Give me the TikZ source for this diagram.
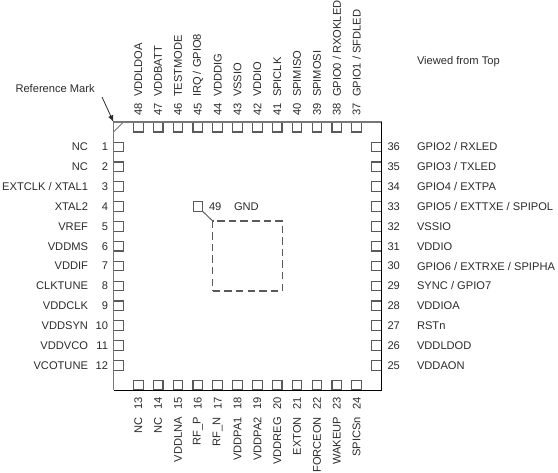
\documentclass[tikz,border=0pt]{standalone}
\usepackage{fontspec}
\setmainfont{Liberation Sans}
\usetikzlibrary{arrows.meta}
\definecolor{ink}{HTML}{2B2B2B}
\definecolor{padc}{HTML}{5A5A5A}
\definecolor{edgeg}{HTML}{777777}
\tikzset{
  x=0.75pt,y=-0.75pt,
  padbox/.style={draw=padc,line width=0.85pt,fill=white,minimum size=7.2pt,inner sep=0pt,outer sep=0pt},
  lbl/.style={font=\fontsize{8.35}{9}\selectfont,text=ink,inner sep=0pt,outer sep=0pt},
  lname/.style={lbl,anchor=east},
  rname/.style={lbl,anchor=west},
  tname/.style={lbl,rotate=90,anchor=west},
  bname/.style={lbl,rotate=90,anchor=east},
}
\begin{document}
\begin{tikzpicture}
\useasboundingbox (0,0) rectangle (558,473);
\coordinate (tl) at (113.5,122);
\coordinate (tr) at (381.5,122);
\coordinate (br) at (381.5,390.3);
\coordinate (bl) at (113.5,390.3);
\coordinate (m1) at (113.5,132);
\coordinate (m2) at (123.5,122);
% left
\foreach \n/\t [count=\i from 0] in {1/NC,2/NC,3/{EXTCLK / XTAL1},4/XTAL2,5/VREF,6/VDDMS,7/VDDIF,8/CLKTUNE,9/VDDCLK,10/VDDSYN,11/VDDVCO,12/VCOTUNE}{
  \pgfmathsetmacro\yy{147+19.85*\i}
  \node[padbox] (p\n) at (118.7,\yy) {};
  \node[lname] (nl\n) at (108,\yy) {\n};
  \node[lname] (tl\n) at (88,\yy) {\t};
}
% right
\foreach \n/\t [count=\i from 0] in {36/{GPIO2 / RXLED},35/{GPIO3 / TXLED},34/{GPIO4 / EXTPA},33/{GPIO5 / EXTTXE / SPIPOL},32/VSSIO,31/VDDIO,30/{GPIO6 / EXTRXE / SPIPHA},29/{SYNC / GPIO7},28/VDDIOA,27/RSTn,26/VDDLDOD,25/VDDAON}{
  \pgfmathsetmacro\yy{147+19.85*\i}
  \node[padbox] (p\n) at (376.3,\yy) {};
  \node[rname] (nl\n) at (387.5,\yy) {\n};
  \node[rname] (tl\n) at (417,\yy) {\t};
}
% top
\foreach \n/\t [count=\i from 0] in {48/VDDLDOA,47/VDDBATT,46/TESTMODE,45/{IRQ / GPIO8},44/VDDDIG,43/VSSIO,42/VDDIO,41/SPICLK,40/SPIMISO,39/SPIMOSI,38/{GPIO0 / RXOKLED},37/{GPIO1 / SFDLED}}{
  \pgfmathsetmacro\xx{138.3+19.85*\i}
  \node[padbox] (p\n) at (\xx,127.2) {};
  \node[tname] (nl\n) at (\xx,116) {\n};
  \node[tname] (tl\n) at (\xx,97) {\t};
}
% bottom
\foreach \n/\t [count=\i from 0] in {13/NC,14/NC,15/VDDLNA,16/RF\_P,17/RF\_N,18/VDDPA1,19/VDDPA2,20/VDDREG,21/EXTON,22/FORCEON,23/WAKEUP,24/SPICSn}{
  \pgfmathsetmacro\xx{138.3+19.85*\i}
  \node[padbox] (p\n) at (\xx,385.1) {};
  \node[bname] (nl\n) at (\xx,397) {\n};
  \node[bname] (tl\n) at (\xx,417) {\t};
}
% package outline, over the pads that touch it
\draw[edgeg,line width=1.1pt] (bl) -- (tl) -- (tr);
\draw[black,line width=0.8pt] (tr) -- (br) -- (bl);
\draw[edgeg,line width=0.7pt] (m1) -- (m2);
% exposed pad
\node[padbox] (p49) at (198,206.7) {};
\node[lbl,anchor=west] (n49) at (209,206.7) {49};
\node[lbl,anchor=west] (gnd) at (234,206.7) {GND};
\node[draw=padc,line width=0.95pt,dash pattern=on 5.6pt off 3.1pt,minimum width=52.2pt,minimum height=52.5pt,inner sep=0pt,outer sep=0pt] (ep) at (247.5,256) {};
\draw[padc,line width=0.7pt] (p49.south east) -- (ep.north west);
% notes
\node[lbl,anchor=west] (vt) at (417,62) {Viewed from Top};
\node[lbl,anchor=west] (rm) at (15.5,88.5) {Reference Mark};
\coordinate (a0) at (102,97);
\draw[ink,line width=0.6pt,-{Latex[length=5pt,width=4pt]}] (a0) -- (tl);
\end{tikzpicture}
\end{document}
